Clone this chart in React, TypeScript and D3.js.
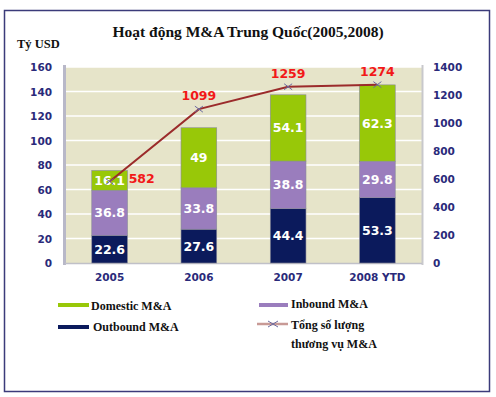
import React from "react";
import * as d3 from "d3";

const categories = ["2005", "2006", "2007", "2008 YTD"];
const outbound = [22.6, 27.6, 44.4, 53.3];
const inbound = [36.8, 33.8, 38.8, 29.8];
const domestic = [16.1, 49, 54.1, 62.3];
const deals = [582, 1099, 1259, 1274];
const leftTicks = [0, 20, 40, 60, 80, 100, 120, 140, 160];
const rightTicks = [0, 200, 400, 600, 800, 1000, 1200, 1400];

const W = 496, H = 397;
const X0 = 65, X1 = 422, Y0 = 263, Y1 = 67;

export default function App() {
  const x = d3.scaleBand().domain(categories).range([X0, X1]).paddingInner(0.6).paddingOuter(0.3);
  const yL = d3.scaleLinear().domain([0, 160]).range([Y0, Y1]);
  const yR = d3.scaleLinear().domain([0, 1400]).range([Y0, Y1]);
  const series = [
    { key: "out", values: outbound, color: "#0b1a5c" },
    { key: "in", values: inbound, color: "#9a7dbd" },
    { key: "dom", values: domestic, color: "#98c808" },
  ];
  const cx = (c: string) => (x(c) as number) + x.bandwidth() / 2;
  const line = d3.line<number>().x((_, i) => cx(categories[i])).y((d) => yR(d));
  const axisFont = "Verdana, 'DejaVu Sans', sans-serif";
  const serif = "'Liberation Serif', 'Times New Roman', serif";

  return (
    <svg width={W} height={H} style={{ position: "absolute", left: 0, top: 0 }}>
      <rect x={0} y={0} width={W} height={H} fill="#fff" />
      <rect x={4.5} y={10.5} width={485} height={381} fill="#fff" stroke="#3b3b7a" strokeWidth={1.5} />
      <text x={248} y={37} textAnchor="middle" fontFamily={serif} fontWeight="bold" fontSize={15.5} fill="#111">
        Hoạt động M&amp;A Trung Quốc(2005,2008)
      </text>
      <text x={17} y={48} fontFamily={serif} fontWeight="bold" fontSize={12.5} fill="#111">Tỷ USD</text>

      {/* plot background */}
      <rect x={X0} y={Y1} width={X1 - X0} height={Y0 - Y1} fill="#e6e4c9" />
      {leftTicks.slice(1).map((t) => (
        <line key={t} x1={X0} x2={X1} y1={yL(t)} y2={yL(t)} stroke="#fff" strokeWidth={1.5} />
      ))}
      <line x1={X0 - 0.5} x2={X0 - 0.5} y1={Y1 - 2} y2={Y0 + 2} stroke="#b8b8c8" strokeWidth={3} />
      <line x1={X1 + 0.5} x2={X1 + 0.5} y1={Y1 - 2} y2={Y0 + 2} stroke="#c8c8cc" strokeWidth={2} />
      <line x1={X0} x2={X1} y1={Y0 + 0.5} y2={Y0 + 0.5} stroke="#c0c0c8" strokeWidth={1.5} />

      {/* bars */}
      {categories.map((c, i) => {
        let acc = 0;
        return (
          <g key={c}>
            {series.map((s) => {
              const v = s.values[i];
              const y0 = yL(acc);
              acc += v;
              const y1 = yL(acc);
              return (
                <g key={s.key}>
                  <rect x={x(c)} y={y1} width={x.bandwidth()} height={y0 - y1} fill={s.color} stroke="#8a8a9a" strokeWidth={0.6} />
                  <text x={cx(c)} y={(y0 + y1) / 2 + 4.5} textAnchor="middle" fontFamily={axisFont} fontWeight="bold" fontSize={12.5} fill="#fff">
                    {String(v)}
                  </text>
                </g>
              );
            })}
          </g>
        );
      })}

      {/* line */}
      <path d={line(deals) as string} fill="none" stroke="#9b2b2b" strokeWidth={2} />
      {deals.map((d, i) => {
        const px = cx(categories[i]), py = yR(d);
        return (
          <g key={i}>
            <path d={`M${px - 4},${py - 3}L${px + 4},${py + 3}M${px - 4},${py + 3}L${px + 4},${py - 3}`} stroke="#6a6aa0" strokeWidth={1} />
            <text x={i === 0 ? px + 19 : px} y={i === 0 ? py + 1 : py - 9} textAnchor={i === 0 ? "start" : "middle"} fontFamily={axisFont} fontWeight="bold" fontSize={12.5} fill="#f21818">
              {String(d)}
            </text>
          </g>
        );
      })}

      {/* axes labels */}
      {leftTicks.map((t) => (
        <text key={t} x={52} y={yL(t) + 4} textAnchor="end" fontFamily={axisFont} fontWeight="bold" fontSize={10.5} fill="#2a2a7a">{t}</text>
      ))}
      {rightTicks.map((t) => (
        <text key={t} x={433} y={yR(t) + 4} textAnchor="start" fontFamily={axisFont} fontWeight="bold" fontSize={10.5} fill="#2a2a7a">{t}</text>
      ))}
      {categories.map((c) => (
        <text key={c} x={cx(c)} y={281} textAnchor="middle" fontFamily={axisFont} fontWeight="bold" fontSize={10.5} fill="#2a2a7a">{c}</text>
      ))}

      {/* legend */}
      <line x1={58} x2={89} y1={305} y2={305} stroke="#98c808" strokeWidth={4} />
      <text x={91} y={310} fontFamily={serif} fontWeight="bold" fontSize={12} fill="#111">Domestic M&amp;A</text>
      <line x1={58} x2={89} y1={327} y2={327} stroke="#0b1a5c" strokeWidth={4} />
      <text x={93} y={331} fontFamily={serif} fontWeight="bold" fontSize={12} fill="#111">Outbound M&amp;A</text>
      <line x1={259} x2={288} y1={305} y2={305} stroke="#9a7dbd" strokeWidth={4} />
      <text x={291} y={308} fontFamily={serif} fontWeight="bold" fontSize={12} fill="#111">Inbound M&amp;A</text>
      <line x1={257} x2={288} y1={324} y2={324} stroke="#c89a96" strokeWidth={2.5} />
      <path d="M268,321L278,327M268,327L278,321" stroke="#6a6aa0" strokeWidth={1} />
      <text x={291} y={329} fontFamily={serif} fontWeight="bold" fontSize={12} fill="#111">Tổng số lượng</text>
      <text x={291} y={348} fontFamily={serif} fontWeight="bold" fontSize={12} fill="#111">thương vụ M&amp;A</text>
    </svg>
  );
}
